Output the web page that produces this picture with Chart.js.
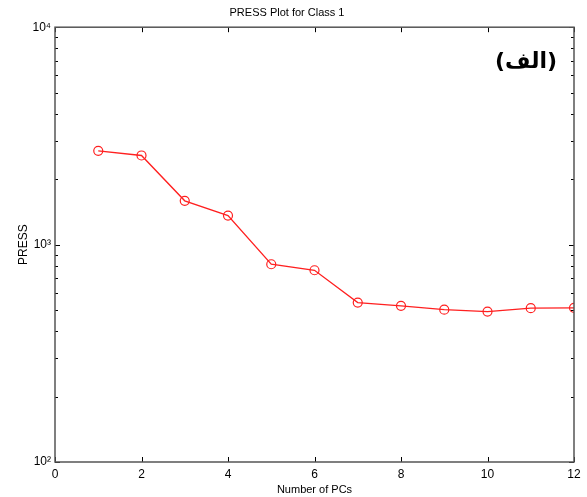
<!DOCTYPE html>
<html>
<head>
<meta charset="utf-8">
<script src="https://cdn.jsdelivr.net/npm/chart.js@4"></script>
<style>
  html,body{margin:0;padding:0;background:#fff;}
  #wrap{position:relative;width:587px;height:497px;}
  #tag{position:absolute;left:495px;top:48px;font:bold 22px "DejaVu Sans",sans-serif;color:#000;}
</style>
</head>
<body>
<div id="wrap">
  <canvas id="chart" width="587" height="497"></canvas>
  <div id="tag" dir="rtl">(الف)</div>
</div>
<script>
const $ = (id)=>document.getElementById(id);

// values
const pcs = [1,2,3,4,5,6,7,8,9,10,11,12];
const press = [2700,2570,1590,1360,812,762,541,523,502,492,510,512];
const xTicks = [0,2,4,6,8,10,12];
const yMajor = [100,1000,10000];
const yLabels = {100:'10²',1000:'10³',10000:'10⁴'};

const FONT = 'Liberation Sans, Arial, sans-serif';

// matlab-ish frame with inward ticks
const boxTicks = {
  id:'boxTicks',
  afterDraw(c){
    const {ctx, chartArea:a, scales:{x,y}} = c;
    ctx.save();
    ctx.strokeStyle = '#000';
    ctx.lineWidth = 1;
    ctx.beginPath();
    xTicks.forEach(v=>{
      const px = Math.round(x.getPixelForValue(v))+0.5;
      ctx.moveTo(px,a.bottom); ctx.lineTo(px,a.bottom-5);
      ctx.moveTo(px,a.top); ctx.lineTo(px,a.top+5);
    });
    for(let d=100; d<10000; d*=10){
      for(let k=1;k<=10;k++){
        const v = d*k;
        if(v>10000) break;
        const py = Math.round(y.getPixelForValue(v))+0.5;
        const len = (k===1||k===10) ? 5 : 3;
        ctx.moveTo(a.left,py); ctx.lineTo(a.left+len,py);
        ctx.moveTo(a.right,py); ctx.lineTo(a.right-len,py);
      }
    }
    ctx.stroke();
    ctx.strokeStyle = '#555';
    ctx.lineWidth = 1.5;
    ctx.strokeRect(a.left,a.top,a.right-a.left,a.bottom-a.top);
    ctx.restore();
  }
};

new Chart($('chart').getContext('2d'), {
  type:'line',
  data:{ datasets:[{
    data: pcs.map((p,i)=>({x:p,y:press[i]})),
    borderColor:'#ff2020', borderWidth:1.3,
    pointStyle:'circle', pointRadius:4.5, pointBorderWidth:1.2,
    pointBackgroundColor:'rgba(0,0,0,0)', pointBorderColor:'#ff2020',
    tension:0
  }]},
  options:{
    responsive:false, animation:false,
    layout:{ padding:{ left:0, right:13, top:0, bottom:0 } },
    plugins:{
      legend:{ display:false }, tooltip:{ enabled:false },
      title:{ display:true, text:'PRESS Plot for Class 1', color:'#000',
        font:{ family:FONT, size:11, weight:'normal' }, padding:{ top:6, bottom:8 } }
    },
    scales:{
      x:{ type:'linear', min:0, max:12,
        afterBuildTicks:(s)=>{ s.ticks = xTicks.map(v=>({value:v})); },
        afterFit:(s)=>{ s.height = 35; },
        grid:{ display:false, drawTicks:false }, border:{ display:false },
        ticks:{ color:'#000', padding:5, maxRotation:0, font:{ family:FONT, size:12 } },
        title:{ display:true, text:'Number of PCs', color:'#000', padding:{top:2,bottom:0},
          font:{ family:FONT, size:11 } }
      },
      y:{ type:'logarithmic', min:100, max:10000,
        afterBuildTicks:(s)=>{ s.ticks = yMajor.map(v=>({value:v})); },
        afterFit:(s)=>{ s.width = 55; },
        grid:{ display:false, drawTicks:false }, border:{ display:false },
        ticks:{ color:'#000', padding:4, font:{ family:FONT, size:12 },
          callback:(v)=>yLabels[v] || '' },
        title:{ display:true, text:'PRESS', color:'#000', padding:{top:16,bottom:0},
          font:{ family:FONT, size:12 } }
      }
    }
  },
  plugins:[boxTicks]
});
</script>
</body>
</html>
